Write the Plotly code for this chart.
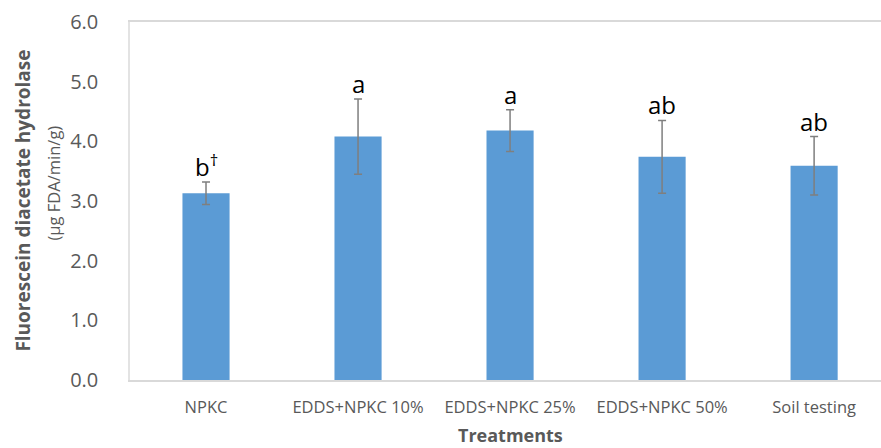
import plotly.graph_objects as go

# Treatment groups and mean FDA hydrolase activity (ug FDA/min/g)
treatments = ["NPKC", "EDDS+NPKC 10%", "EDDS+NPKC 25%", "EDDS+NPKC 50%", "Soil testing"]
means = [3.13, 4.08, 4.18, 3.74, 3.59]
errors = [0.19, 0.63, 0.35, 0.61, 0.49]
letters = ["b<sup>†</sup>", "a", "a", "ab", "ab"]
y_ticks = [0, 1, 2, 3, 4, 5, 6]

BAR = "#5B9BD5"
TXT = "#595959"
FONT = "Open Sans"

fig = go.Figure()
fig.add_trace(go.Bar(
    x=list(range(len(treatments))),
    y=means,
    width=0.31,
    marker=dict(color=BAR, line=dict(width=0)),
    error_y=dict(type="data", array=errors, visible=True,
                 color="#7F7F7F", thickness=1.5, width=4),
    showlegend=False,
))

# Significance letters above each error bar
for i, (m, e, lab) in enumerate(zip(means, errors, letters)):
    fig.add_annotation(x=i, y=m + e, text=lab, showarrow=False,
                       xref="x", yref="y", yanchor="bottom", yshift=-3,
                       font=dict(family=FONT, size=24, color="#000000"))

# Axis titles
fig.add_annotation(text="<b>Fluorescein diacetate hydrolase</b>", textangle=-90,
                   xref="paper", yref="paper", x=-0.143, y=0.5,
                   xanchor="center", yanchor="middle", showarrow=False,
                   font=dict(family=FONT, size=19, color=TXT))
fig.add_annotation(text="(μg FDA/min/g)", textangle=-90,
                   xref="paper", yref="paper", x=-0.102, y=0.55,
                   xanchor="center", yanchor="middle", showarrow=False,
                   font=dict(family=FONT, size=16.5, color=TXT))
fig.add_annotation(text="<b>Treatments</b>",
                   xref="paper", yref="paper", x=0.506, y=-0.155,
                   xanchor="center", yanchor="middle", showarrow=False,
                   font=dict(family=FONT, size=18, color=TXT))

fig.update_layout(
    width=881, height=448,
    margin=dict(l=130, r=0, t=22, b=68),
    paper_bgcolor="white", plot_bgcolor="white",
    font=dict(family=FONT, color=TXT),
    bargap=0.69,
)
fig.update_xaxes(
    range=[-0.5, 4.44],
    tickmode="array", tickvals=list(range(len(treatments))), ticktext=treatments,
    tickfont=dict(family=FONT, size=16.5, color=TXT),
    showline=True, linecolor="#D9D9D9", linewidth=1.5, mirror=True,
    showgrid=False, zeroline=False, ticks="", ticklabelstandoff=11,
)
fig.update_yaxes(
    range=[0, 6], tickmode="array", tickvals=y_ticks,
    ticktext=[f"{v:.1f}" for v in y_ticks],
    tickfont=dict(family=FONT, size=20, color=TXT),
    showline=True, linecolor="#E3E3E3", linewidth=1.5,
    showgrid=False, zeroline=False, ticks="", ticklabelstandoff=26,
)

fig.write_html("out.html")
